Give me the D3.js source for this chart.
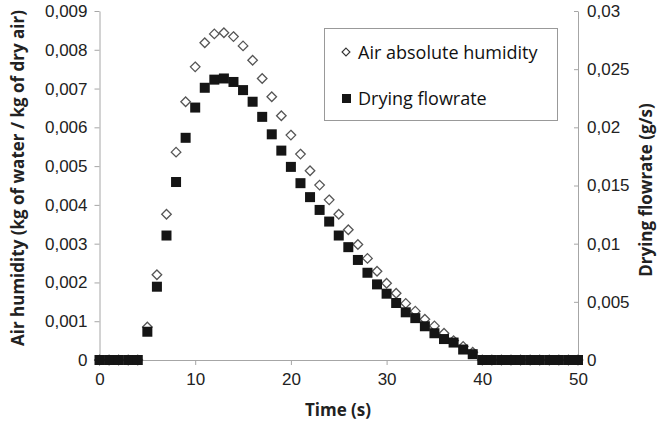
<!DOCTYPE html>
<html>
<head>
<meta charset="utf-8">
<script src="https://cdn.jsdelivr.net/npm/d3@7"></script>
<style>
  body { margin: 0; background: #fff; }
  svg { font-family: "Open Sans", sans-serif; }
  .axis path, .axis line { stroke: #a6a6a6; }
  .axis text { fill: #222; }
</style>
</head>
<body>
<div id="chart"></div>
<script>
// time (s)
var time = [0,1,2,3,4,5,6,7,8,9,10,11,12,13,14,15,16,17,18,19,20,
  21,22,23,24,25,26,27,28,29,30,31,32,33,34,35,36,37,38,39,40,
  41,42,43,44,45,46,47,48,49,50];

// air absolute humidity (kg water / kg dry air), left axis
var humidity = [0,0,0,0,0,0.00085,0.0022,0.00376,0.00536,0.00666,0.00756,
  0.00818,0.00841,0.00844,0.00834,0.0081,0.00773,0.00726,0.00679,0.0063,0.0058,
  0.00531,0.00488,0.00451,0.00413,0.00376,0.00336,0.00298,0.00262,0.00229,0.00198,
  0.00172,0.00146,0.00126,0.00105,0.00088,0.00069,0.0005,0.00035,0.0002,0,
  0,0,0,0,0,0,0,0,0,0];

// drying flowrate (g/s), right axis
var flowrate = [0,0,0,0,0,0.00243,0.0063,0.0107,0.0153,0.0191,0.0217,
  0.0234,0.0241,0.0242,0.0239,0.0232,0.0222,0.0209,0.0194,0.018,0.0166,
  0.0152,0.014,0.0129,0.0119,0.0107,0.0097,0.0086,0.0075,0.0065,0.0057,
  0.0049,0.0041,0.0036,0.0029,0.0023,0.0018,0.0015,0.0009,0.0005,0,
  0,0,0,0,0,0,0,0,0,0];

var xTicks = [0,10,20,30,40,50];
var leftTicks = [0,0.001,0.002,0.003,0.004,0.005,0.006,0.007,0.008,0.009];
var rightTicks = [0,0.005,0.01,0.015,0.02,0.025,0.03];

var width = 658, height = 425;
var margin = { top: 11, right: 80, bottom: 65, left: 99.5 };

var svg = d3.select("#chart").append("svg")
    .attr("width", width)
    .attr("height", height);

var x = d3.scaleLinear().domain([0, 50]).range([margin.left, 578]);
var yL = d3.scaleLinear().domain([0, 0.009]).range([360, margin.top]);
var yR = d3.scaleLinear().domain([0, 0.03]).range([360, margin.top]);

// comma decimal separator
var loc = d3.formatLocale({ decimal: ",", thousands: ".", grouping: [3], currency: ["", ""] });
var fmt = loc.format("~g");

svg.append("g")
    .attr("class", "axis")
    .attr("transform", "translate(0,360)")
    .call(d3.axisBottom(x).tickValues(xTicks).tickSize(5).tickSizeOuter(0).tickPadding(8))
    .selectAll("text").attr("font-size", 17);

svg.append("g")
    .attr("class", "axis")
    .attr("transform", "translate(" + margin.left + ",0)")
    .call(d3.axisLeft(yL).tickValues(leftTicks).tickFormat(fmt).tickSize(5).tickSizeOuter(0).tickPadding(7))
    .selectAll("text").attr("font-size", 17);

svg.append("g")
    .attr("class", "axis")
    .attr("transform", "translate(578,0)")
    .call(d3.axisRight(yR).tickValues(rightTicks).tickFormat(fmt).tickSize(0).tickSizeOuter(0).tickPadding(9))
    .call(function(g) {
      g.selectAll(".tick line").attr("x1", -4).attr("x2", 0);
    })
    .selectAll("text").attr("font-size", 17);

// axis titles
svg.append("text")
    .attr("x", 338).attr("y", 416)
    .attr("text-anchor", "middle")
    .attr("font-weight", "bold")
    .attr("font-size", 17)
    .attr("fill", "#222")
    .text("Time (s)");

svg.append("text")
    .attr("transform", "translate(24,178) rotate(-90)")
    .attr("text-anchor", "middle")
    .attr("font-weight", "bold")
    .attr("font-size", 17)
    .attr("fill", "#222")
    .text("Air humidity (kg of water / kg of dry air)");

svg.append("text")
    .attr("transform", "translate(652,190) rotate(-90)")
    .attr("text-anchor", "middle")
    .attr("font-weight", "bold")
    .attr("font-size", 17)
    .attr("fill", "#222")
    .text("Drying flowrate (g/s)");

var diamond = d3.symbol().type(d3.symbolDiamond2).size(58);

// humidity diamonds (drawn first, squares sit on top)
svg.append("g").selectAll("path")
    .data(time)
    .enter()
    .append("path")
      .attr("d", diamond)
      .attr("transform", function(d, i) {
        return "translate(" + x(d) + "," + yL(humidity[i]) + ")";
      })
      .attr("fill", "#fff")
      .attr("stroke", "#555")
      .attr("stroke-width", 1.3);

// flowrate squares
svg.append("g").selectAll("rect")
    .data(time)
    .enter()
    .append("rect")
      .attr("x", function(d) { return x(d) - 5; })
      .attr("y", function(d, i) { return yR(flowrate[i]) - 5; })
      .attr("width", 10)
      .attr("height", 10)
      .attr("fill", "#151515");

// legend
var legend = svg.append("g");
legend.append("rect")
    .attr("x", 324.5).attr("y", 28.5)
    .attr("width", 233).attr("height", 92)
    .attr("fill", "#fff")
    .attr("stroke", "#999");

legend.append("path")
    .attr("d", d3.symbol().type(d3.symbolDiamond2).size(40))
    .attr("transform", "translate(346,52)")
    .attr("fill", "#fff")
    .attr("stroke", "#333")
    .attr("stroke-width", 1.1);
legend.append("text")
    .attr("x", 358).attr("y", 59)
    .attr("font-size", 18)
    .attr("fill", "#111")
    .text("Air absolute humidity");

legend.append("rect")
    .attr("x", 342).attr("y", 94)
    .attr("width", 9).attr("height", 9)
    .attr("fill", "#151515");
legend.append("text")
    .attr("x", 358).attr("y", 105)
    .attr("font-size", 18)
    .attr("fill", "#111")
    .text("Drying flowrate");
</script>
</body>
</html>
